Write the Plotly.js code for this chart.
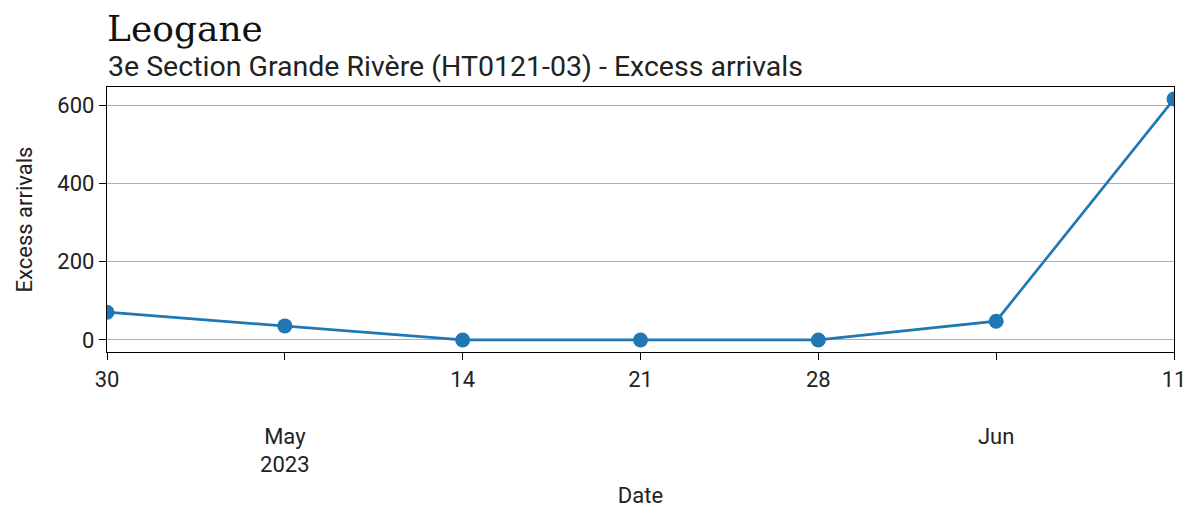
<!DOCTYPE html>
<html>
<head>
<meta charset="utf-8">
<script src="https://cdn.plot.ly/plotly-3.0.1.min.js"></script>
<style>html,body{margin:0;padding:0;background:#fff;}#chart{width:1193px;height:511px;}</style>
</head>
<body>
<div id="chart"></div>
<script>
// Data
const dates = ["2023-04-30", "2023-05-07", "2023-05-14", "2023-05-21", "2023-05-28", "2023-06-04", "2023-06-11"];
const excessArrivals = [71, 36, 0, 0, 0, 48, 616];
const tickLabels = ["30", "<br><br>May<br>2023", "14", "21", "28", "<br><br>Jun", "11"];
const monthTickDates = ["2023-05-07", "2023-06-04"];
const yTicks = [0, 200, 400, 600];

const titleText = "Leogane";
const subtitleText = "3e Section Grande Rivère (HT0121-03) - Excess arrivals";

const yMax = Math.max(...excessArrivals), yMin = Math.min(...excessArrivals);
const yPad = (yMax - yMin) * 0.05;

const trace = {
  x: dates,
  y: excessArrivals,
  type: "scatter",
  mode: "lines+markers",
  line: {color: "#1f77b4", width: 2.7},
  marker: {color: "#1f77b4", size: 15},
  xaxis: "x",
  yaxis: "y",
  hoverinfo: "x+y"
};

const tickFont = {family: "Roboto, sans-serif", size: 22, color: "#222"};

const layout = {
  width: 1193,
  height: 511,
  margin: {l: 107, r: 19, t: 87, b: 159, pad: 0},
  paper_bgcolor: "#fff",
  plot_bgcolor: "#fff",
  showlegend: false,
  font: {family: "Roboto, sans-serif", color: "#222"},
  title: {
    text: titleText,
    font: {family: "DejaVu Serif, serif", size: 36, color: "#111"},
    xref: "paper", x: 0, xanchor: "left",
    yref: "container", y: 0.969, yanchor: "top",
    pad: {t: 0, b: 0, l: 0, r: 0}
  },
  annotations: [{
    text: subtitleText,
    font: {family: "Roboto, sans-serif", size: 28.5, color: "#222"},
    xref: "paper", x: 0, xanchor: "left",
    yref: "paper", y: 1, yanchor: "bottom", yshift: 3,
    showarrow: false, borderpad: 0
  }],
  xaxis: {
    type: "date",
    range: [dates[0], dates[dates.length - 1]],
    tickmode: "array",
    tickvals: dates,
    ticktext: tickLabels,
    tickangle: 0,
    ticks: "outside",
    ticklen: 7,
    tickwidth: 1.3,
    tickcolor: "#000",
    tickfont: tickFont,
    showgrid: false,
    zeroline: false,
    showline: true,
    linecolor: "#000",
    linewidth: 1.3,
    mirror: true,
    title: {text: "Date", font: {family: "Roboto, sans-serif", size: 22, color: "#222"}, standoff: 11}
  },
  xaxis2: {
    type: "date",
    overlaying: "x",
    anchor: "y",
    side: "bottom",
    range: [dates[0], dates[dates.length - 1]],
    tickmode: "array",
    tickvals: monthTickDates,
    showticklabels: false,
    ticks: "",
    showgrid: true,
    gridcolor: "#b0b0b0",
    gridwidth: 1.2,
    zeroline: false,
    showline: false
  },
  yaxis: {
    range: [yMin - yPad, yMax + yPad],
    tickmode: "array",
    tickvals: yTicks,
    ticks: "outside",
    ticklen: 7,
    tickwidth: 1.3,
    tickcolor: "#000",
    tickfont: tickFont,
    showgrid: true,
    gridcolor: "#b0b0b0",
    gridwidth: 1.2,
    zeroline: false,
    showline: true,
    linecolor: "#000",
    linewidth: 1.3,
    mirror: true,
    title: {text: "Excess arrivals", font: {family: "Roboto, sans-serif", size: 22, color: "#222"}, standoff: 18}
  }
};

Plotly.newPlot("chart", [trace], layout, {displayModeBar: false});
</script>
</body>
</html>
